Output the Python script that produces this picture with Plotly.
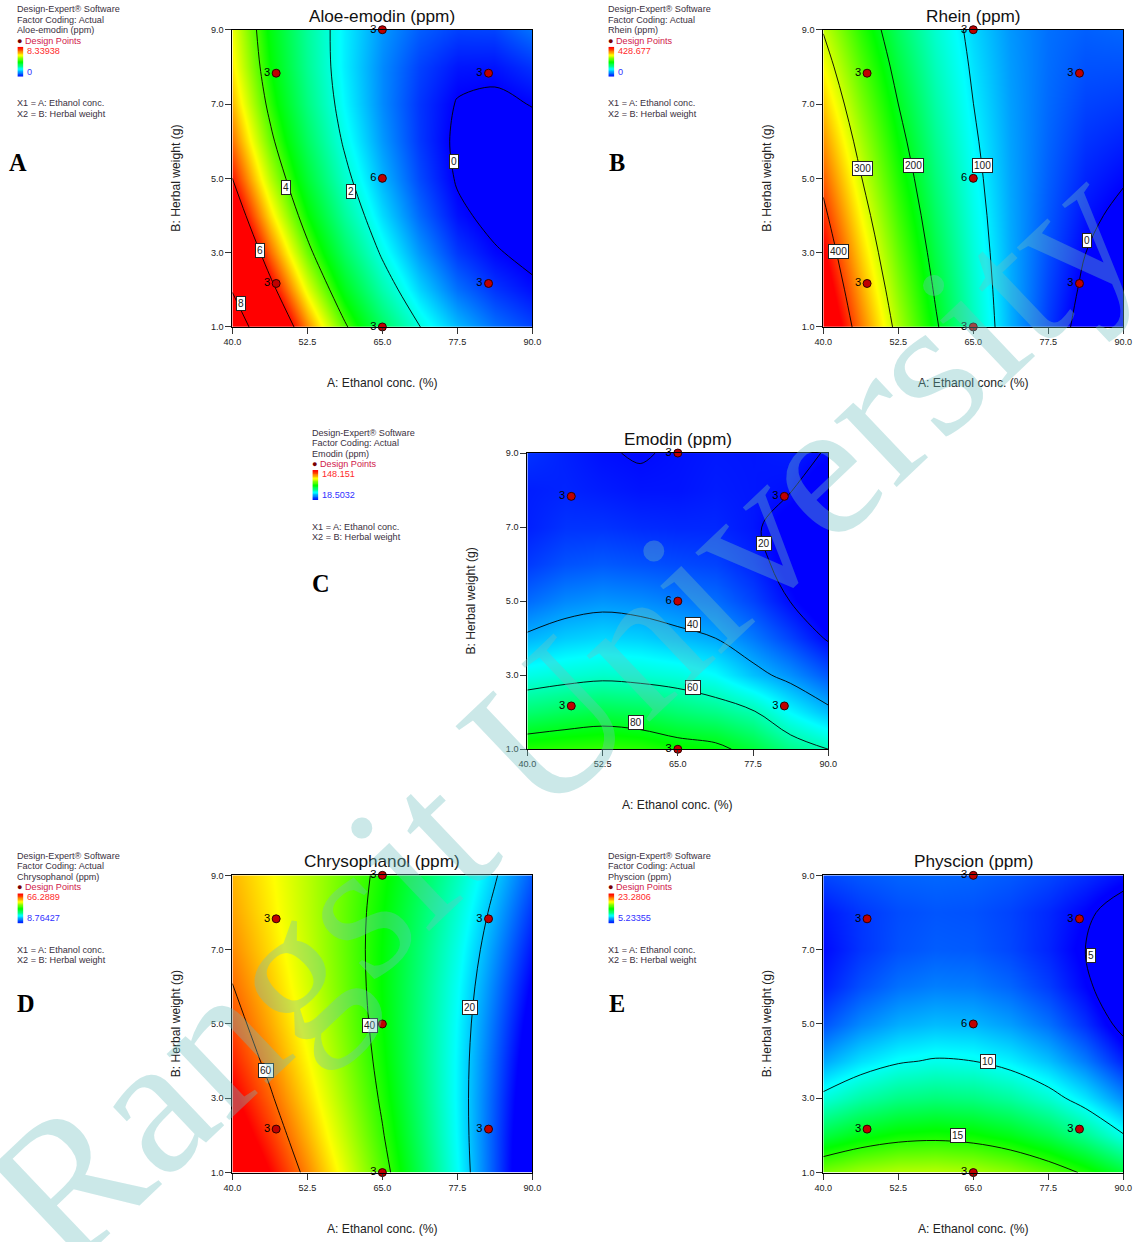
import plotly.graph_objects as go

W, H = 1138, 1242

# ---------------- data ----------------
ETHANOL = [40.0, 46.25, 52.5, 58.75, 65.0, 71.25, 77.5, 83.75, 90.0]   # A: Ethanol conc. (%)
HERBAL = [1, 2, 3, 4, 5, 6, 7, 8, 9]                                   # B: Herbal weight (g)

# rows = herbal weight 1..9, columns = ethanol 40..90
ALOE_EMODIN = [
    [8.79, 7.01, 5.44, 4.09, 2.94, 2.01, 1.29, 0.79, 0.47],
    [7.94, 6.25, 4.77, 3.48, 2.38, 1.48, 0.78, 0.37, 0.10],
    [7.20, 5.59, 4.18, 2.95, 1.91, 1.06, 0.39, 0.05, -0.15],
    [6.55, 5.02, 3.68, 2.52, 1.53, 0.73, 0.11, -0.16, -0.28],
    [6.00, 4.54, 3.27, 2.17, 1.25, 0.51, -0.05, -0.25, -0.30],
    [5.55, 4.15, 2.95, 1.91, 1.06, 0.39, -0.10, -0.24, -0.20],
    [5.21, 3.86, 2.71, 1.74, 0.96, 0.37, -0.03, -0.11, 0.02],
    [4.96, 3.66, 2.57, 1.66, 0.96, 0.46, 0.15, 0.13, 0.35],
    [4.81, 3.55, 2.51, 1.67, 1.05, 0.65, 0.45, 0.47, 0.80],
]
RHEIN = [
    [477.0, 376.6, 286.1, 205.6, 135.1, 74.6, 24.1, -16.4, -46.9],
    [455.1, 357.8, 270.9, 194.5, 128.8, 73.5, 28.8, -8.0, -33.5],
    [433.2, 339.1, 256.0, 183.8, 122.6, 72.3, 33.0, 0.1, -20.8],
    [410.9, 320.6, 241.5, 173.5, 116.7, 71.1, 36.6, 7.7, -8.6],
    [388.6, 302.3, 227.3, 163.5, 111.0, 69.7, 39.7, 15.0, 3.0],
    [366.1, 284.2, 213.5, 153.9, 105.5, 68.3, 42.3, 21.9, 14.0],
    [343.4, 266.1, 200.0, 144.6, 100.2, 66.8, 44.4, 28.3, 24.4],
    [320.5, 248.4, 186.8, 135.7, 95.2, 65.3, 45.9, 34.4, 34.1],
    [297.5, 230.7, 174.0, 127.2, 90.4, 63.6, 46.9, 40.1, 43.3],
]
EMODIN = [
    [87.5, 89.0, 90.0, 88.5, 85.0, 83.0, 76.0, 66.0, 60.0],
    [69.2, 72.0, 74.0, 72.5, 69.0, 66.0, 61.0, 50.5, 42.5],
    [53.85, 56.0, 57.5, 56.5, 55.0, 51.0, 43.0, 37.0, 29.5],
    [41.5, 44.5, 46.0, 45.0, 42.5, 40.0, 34.0, 27.0, 19.0],
    [32.2, 36.0, 37.5, 36.5, 34.5, 32.5, 27.0, 19.8, 13.0],
    [25.9, 29.0, 30.0, 29.0, 28.0, 27.0, 23.0, 16.5, 11.0],
    [22.55, 25.0, 25.0, 24.0, 23.5, 23.5, 21.2, 16.0, 11.5],
    [22.2, 23.0, 22.0, 21.0, 21.0, 22.0, 21.3, 20.3, 14.0],
    [24.9, 22.5, 20.4, 19.6, 20.6, 21.5, 21.2, 22.0, 19.5],
]
CHRYSOPHANOL = [
    [73.3, 66.2, 58.6, 50.5, 42.0, 32.95, 23.45, 13.5, 3.0],
    [70.05, 63.31, 56.13, 48.45, 40.41, 31.88, 22.91, 13.5, 3.64],
    [67.1, 60.75, 53.99, 46.74, 39.16, 31.12, 22.65, 13.75, 4.48],
    [64.47, 58.5, 52.18, 45.35, 38.21, 30.66, 22.67, 14.25, 5.51],
    [62.15, 56.6, 50.7, 44.3, 37.6, 30.5, 22.96, 15.0, 6.75],
    [60.15, 55.02, 49.54, 43.59, 37.31, 30.64, 23.53, 16.0, 8.19],
    [58.45, 53.77, 48.73, 43.2, 37.34, 31.08, 24.38, 17.25, 9.83],
    [57.07, 52.85, 48.23, 43.15, 37.69, 31.82, 25.51, 18.76, 11.66],
    [56.0, 52.25, 48.07, 43.44, 38.37, 32.86, 26.91, 20.51, 13.7],
]
PHYSCION = [
    [16.43, 17.1, 17.47, 17.53, 17.29, 16.75, 15.9, 14.76, 13.31],
    [13.1, 13.95, 14.45, 14.6, 14.4, 13.86, 12.95, 11.71, 10.11],
    [10.38, 11.32, 11.9, 12.12, 11.97, 11.46, 10.58, 9.34, 7.74],
    [8.24, 9.24, 9.86, 10.12, 10.0, 9.52, 8.66, 7.44, 5.85],
    [6.7, 7.68, 8.3, 8.57, 8.48, 8.03, 7.24, 6.08, 4.57],
    [5.75, 6.65, 7.23, 7.49, 7.42, 7.03, 6.31, 5.27, 3.9],
    [5.4, 6.17, 6.66, 6.88, 6.82, 6.48, 5.88, 4.99, 3.82],
    [5.64, 6.21, 6.58, 6.74, 6.68, 6.42, 5.94, 5.25, 4.35],
    [6.47, 6.79, 6.99, 7.05, 6.99, 6.81, 6.49, 6.05, 5.48],
]

DESIGN_ETHANOL = [65.0, 47.3, 82.7, 65.0, 47.3, 82.7, 65.0]
DESIGN_HERBAL = [9.0, 7.83, 7.83, 5.0, 2.17, 2.17, 1.0]
DESIGN_REPS = ["3", "3", "3", "6", "3", "3", "3"]

RESPONSES = ["Aloe-emodin (ppm)", "Rhein (ppm)", "Emodin (ppm)",
             "Chrysophanol (ppm)", "Physcion (ppm)"]
LEGEND_MAX = ["8.33938", "428.677", "148.151", "66.2889", "23.2806"]
LEGEND_MIN = ["0", "0", "18.5032", "8.76427", "5.23355"]
PANEL_LETTERS = ["A", "B", "C", "D", "E"]

X_TICKS = [40.0, 52.5, 65.0, 77.5, 90.0]
X_TICK_TEXT = ["40.0", "52.5", "65.0", "77.5", "90.0"]
Y_TICKS = [1, 3, 5, 7, 9]
Y_TICK_TEXT = ["1.0", "3.0", "5.0", "7.0", "9.0"]

SURFACES = [ALOE_EMODIN, RHEIN, EMODIN, CHRYSOPHANOL, PHYSCION]

# ---------------- styling / layout ----------------
FONT = "Arial, Liberation Sans, sans-serif"
SERIF = "Liberation Serif, Times New Roman, serif"
CS = [[0.0, "rgb(0,0,255)"], [0.25, "rgb(0,255,255)"], [0.5, "rgb(0,255,0)"],
      [0.75, "rgb(255,255,0)"], [1.0, "rgb(255,0,0)"]]
# the aloe-emodin surface is shaded with its colour stops spread unevenly
CS_ALOE = [[0.0, "rgb(0,0,255)"], [0.29, "rgb(0,255,255)"], [0.6, "rgb(0,255,0)"],
           [0.8, "rgb(255,255,0)"], [1.0, "rgb(255,0,0)"]]

PANELS = [
    dict(box=(232, 30, 532, 327), leg=(16, 0), letter=(18, 163), crange=(0, 6.1), lev=(0, 8, 2), cs=CS_ALOE),
    dict(box=(823, 30, 1123, 327), leg=(607, 0), letter=(617, 163), crange=(0, 428.677), lev=(0, 400, 100), cs=CS),
    dict(box=(527, 453, 828, 749), leg=(311, 423), letter=(321, 583), crange=(18.5032, 148.151), lev=(20, 80, 20), cs=CS),
    dict(box=(232, 875, 532, 1172), leg=(16, 846), letter=(26, 1003), crange=(8.76427, 66.2889), lev=(20, 60, 20), cs=CS),
    dict(box=(823, 875, 1123, 1172), leg=(607, 846), letter=(617, 1003), crange=(5.23355, 23.2806), lev=(5, 15, 5), cs=CS),
]

# where the boxed contour-level labels sit (ethanol, herbal weight, level index)
LABEL_SPOTS = [
    [(41.45, 1.63, 4), (44.6, 3.06, 3), (48.9, 4.74, 2), (59.8, 4.65, 1), (76.9, 5.44, 0)],
    [(42.55, 3.02, 4), (46.55, 5.26, 3), (55.04, 5.35, 2), (66.5, 5.35, 1), (84.0, 3.33, 0)],
    [(79.3, 6.56, 0), (67.6, 4.36, 1), (67.5, 2.68, 2), (58.1, 1.73, 3)],
    [(45.6, 3.76, 2), (62.9, 4.95, 1), (79.6, 5.45, 0)],
    [(84.6, 6.85, 0), (67.5, 3.98, 1), (62.5, 1.99, 2)],
]

# the viewer maps page pixels to picture pixels as  pic = off + k * page
KX, OX = 0.9843, 8.6
KY, OY = 0.9912, 5.3


def fx(px):
    return ((px - OX) / KX) / W


def fy(py):
    return 1 - ((py - OY) / KY) / H


def fs(size):
    return round(size / ((KX + KY) / 2), 2)


fig = go.Figure()
layout = dict(width=W, height=H, margin=dict(l=0, r=0, t=0, b=0),
              paper_bgcolor="white", plot_bgcolor="white", showlegend=False,
              font=dict(family=FONT, color="#222"))
annotations = []

for i, (p, z) in enumerate(zip(PANELS, SURFACES)):
    n = i + 1
    xk, yk = ("xaxis", "yaxis") if n == 1 else (f"xaxis{n}", f"yaxis{n}")
    xr, yr = ("x", "y") if n == 1 else (f"x{n}", f"y{n}")
    l, t, r, b = p["box"]
    s, e, st = p["lev"]
    fig.add_trace(go.Contour(
        x=ETHANOL, y=HERBAL, z=z, colorscale=p["cs"],
        zmin=p["crange"][0], zmax=p["crange"][1], zauto=False,
        autocontour=False,
        contours=dict(coloring="heatmap", start=s, end=e, size=st, showlabels=False),
        line=dict(color="black", width=0.9, smoothing=1.0),
        showscale=False, xaxis=xr, yaxis=yr, hoverinfo="skip"))
    fig.add_trace(go.Scatter(
        x=DESIGN_ETHANOL, y=DESIGN_HERBAL, mode="markers+text", text=DESIGN_REPS,
        textposition="middle left", textfont=dict(size=fs(11), color="black", family=FONT),
        marker=dict(size=8, color="#c00000", line=dict(color="#300000", width=1)),
        cliponaxis=False, xaxis=xr, yaxis=yr, hoverinfo="skip"))
    axstyle = dict(ticks="outside", ticklen=6, tickcolor="#333", tickwidth=1,
                   tickfont=dict(size=fs(9), color="#222", family=FONT),
                   showline=True, linecolor="black", linewidth=1, mirror=True,
                   showgrid=False, zeroline=False, fixedrange=True)
    layout[xk] = dict(domain=[fx(l), fx(r)], range=[40, 90], tickvals=X_TICKS,
                      ticktext=X_TICK_TEXT, anchor=yr, **axstyle)
    layout[yk] = dict(domain=[fy(b), fy(t)], range=[1, 9], tickvals=Y_TICKS,
                      ticktext=Y_TICK_TEXT, anchor=xr, **axstyle)

    # boxed contour labels
    levels = list(range(int(s), int(e) + 1, int(st)))
    for ax_, ay_, li in LABEL_SPOTS[i]:
        annotations.append(dict(text=str(levels[li]), x=ax_, y=ay_, xref=xr, yref=yr,
                                showarrow=False, xanchor="center", yanchor="middle",
                                bgcolor="white", bordercolor="#222", borderwidth=1,
                                borderpad=1, font=dict(size=fs(10), color="#222", family=FONT)))

    # title and axis titles
    annotations.append(dict(text=RESPONSES[i], x=fx((l + r) / 2), y=fy(t - 14),
                            xref="paper", yref="paper", showarrow=False,
                            xanchor="center", yanchor="middle",
                            font=dict(size=fs(17), color="#111", family=FONT)))
    annotations.append(dict(text="A: Ethanol conc. (%)", x=fx((l + r) / 2), y=fy(b + 56),
                            xref="paper", yref="paper", showarrow=False,
                            xanchor="center", yanchor="middle",
                            font=dict(size=fs(12), color="#222", family=FONT)))
    annotations.append(dict(text="B: Herbal weight (g)", x=fx(l - 56), y=fy((t + b) / 2),
                            xref="paper", yref="paper", showarrow=False, textangle=-90,
                            xanchor="center", yanchor="middle",
                            font=dict(size=fs(12), color="#222", family=FONT)))

    # Design-Expert side legend
    lx, ly = p["leg"]
    lines = [("Design-Expert® Software", 9.5, "#3a3040", lx),
             ("Factor Coding: Actual", 20, "#3a3040", lx),
             (RESPONSES[i], 30.5, "#3a3040", lx),
             ("<span style='color:#7a0000'>●</span> Design Points", 41, "#d0204a", lx),
             (LEGEND_MAX[i], 51, "#ff2a2a", lx + 10),
             (LEGEND_MIN[i], 72, "#3030ff", lx + 10),
             ("X1 = A: Ethanol conc.", 103.5, "#3a3040", lx),
             ("X2 = B: Herbal weight", 114, "#3a3040", lx)]
    for txt, dy, col, xx in lines:
        annotations.append(dict(text=txt, x=fx(xx - 1), y=fy(ly + dy), xref="paper", yref="paper",
                                showarrow=False, xanchor="left", yanchor="middle",
                                font=dict(size=fs(9), color=col, family=FONT)))
    # mini colour bar of the legend
    k = n + 5
    fig.add_trace(go.Heatmap(z=[[v / 20] for v in range(21)], colorscale=CS, zmin=0, zmax=1,
                             showscale=False, zsmooth="best", xaxis=f"x{k}", yaxis=f"y{k}",
                             hoverinfo="skip"))
    layout[f"xaxis{k}"] = dict(domain=[fx(lx + 1), fx(lx + 7)], visible=False, anchor=f"y{k}",
                               fixedrange=True)
    layout[f"yaxis{k}"] = dict(domain=[fy(ly + 77), fy(ly + 47)], visible=False, anchor=f"x{k}",
                               fixedrange=True)

    # panel letter
    lxp, lyp = p["letter"]
    annotations.append(dict(text=f"<b>{PANEL_LETTERS[i]}</b>", x=fx(lxp), y=fy(lyp),
                            xref="paper", yref="paper", showarrow=False,
                            xanchor="center", yanchor="middle",
                            font=dict(size=fs(24), color="black", family=SERIF)))

# watermark
annotations.append(dict(text="Rangsit University", x=fx(562), y=fy(712), xref="paper", yref="paper",
                        showarrow=False, xanchor="center", yanchor="middle", textangle=-43.5,
                        font=dict(size=fs(196), color="rgba(110,190,190,0.36)", family=SERIF)))

layout["annotations"] = annotations
fig.update_layout(**layout)

fig.write_html("out.html", include_plotlyjs=True, full_html=True,
               config={"displayModeBar": False},
               post_script="document.body.style.margin='0';")
